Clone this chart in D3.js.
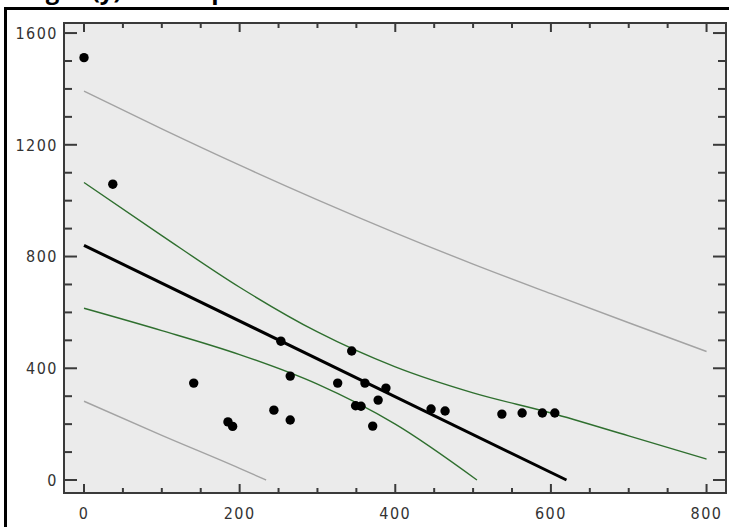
<!DOCTYPE html>
<meta charset="utf-8">
<style>
body { margin: 0; background: #fff; }
svg { display: block; }
.tick-label {
  font-family: "Liberation Sans Narrow", "DejaVu Sans Condensed", sans-serif;
  font-size: 16px;
  letter-spacing: 1.5px;
  fill: #333;
}
.title {
  font-family: "Open Sans", "DejaVu Sans", sans-serif;
  font-weight: bold;
  font-size: 24px;
}
</style>
<svg width="729" height="527"></svg>
<script src="https://d3js.org/d3.v7.min.js"></script>
<script>

// scatter points
var pointX = [0, 37, 141, 185, 191, 244, 265, 253, 265, 326, 344, 349, 356, 361, 371, 378, 388, 446, 464, 537, 563, 589, 605];
var pointY = [1512, 1059, 347, 208, 192, 250, 215, 497, 372, 347, 462, 266, 264, 347, 193, 286, 329, 254, 247, 236, 240, 240, 240];

// fitted line
var fitX = [0, 620];
var fitY = [840, 0];

// confidence band (green)
var confUpX = [0, 100, 200, 300, 400, 500, 600, 700, 800];
var confUpY = [1065, 875, 690, 530, 405, 312, 240, 158, 75];
var confLoX = [0, 100, 200, 300, 400, 505];
var confLoY = [615, 535, 449, 343, 200, 0];

// prediction band (grey)
var predUpX = [0, 100, 200, 300, 400, 500, 600, 700, 800];
var predUpY = [1392, 1257, 1127, 1003, 885, 773, 667, 563, 460];
var predLoX = [0, 100, 200, 234];
var predLoY = [282, 160, 42, 0];

var xTicks = [0, 200, 400, 600, 800];
var yTicks = [0, 400, 800, 1200, 1600];

var svg = d3.select("svg");

var pLeft = 64, pRight = 726, pTop = 23, pBottom = 493;

var x = d3.scaleLinear().domain([-25.7, 825]).range([pLeft, pRight]);
var y = d3.scaleLinear().domain([-46.5, 1636]).range([pBottom, pTop]);

// title, mostly cut off at the top
svg.append("text")
    .attr("class", "title")
    .attr("x", 1)
    .attr("y", -1)
    .text("Weight (y) vs Temp");

// frame
svg.append("line").attr("x1", 5.5).attr("x2", 5.5).attr("y1", 7).attr("y2", 527)
    .attr("stroke", "#000").attr("stroke-width", 3);
svg.append("line").attr("x1", 4).attr("x2", 729).attr("y1", 8.5).attr("y2", 8.5)
    .attr("stroke", "#000").attr("stroke-width", 3);

// plot background
svg.append("rect")
    .attr("x", pLeft).attr("y", pTop)
    .attr("width", pRight - pLeft).attr("height", pBottom - pTop)
    .attr("fill", "#ebebeb");

var plot = svg.append("g");

function zipped(xs, ys) {
  return xs.map(function(d, i) { return [d, ys[i]]; });
}

var line = d3.line()
    .x(function(d) { return x(d[0]); })
    .y(function(d) { return y(d[1]); })
    .curve(d3.curveMonotoneX);

plot.append("path").datum(zipped(predUpX, predUpY))
    .attr("d", line).attr("fill", "none").attr("stroke", "#a3a3a3").attr("stroke-width", 1.4);
plot.append("path").datum(zipped(predLoX, predLoY))
    .attr("d", line).attr("fill", "none").attr("stroke", "#a3a3a3").attr("stroke-width", 1.4);
plot.append("path").datum(zipped(confUpX, confUpY))
    .attr("d", line).attr("fill", "none").attr("stroke", "#2f6f2f").attr("stroke-width", 1.4);
plot.append("path").datum(zipped(confLoX, confLoY))
    .attr("d", line).attr("fill", "none").attr("stroke", "#2f6f2f").attr("stroke-width", 1.4);
plot.append("path").datum(zipped(fitX, fitY))
    .attr("d", line).attr("fill", "none").attr("stroke", "#000").attr("stroke-width", 3);

plot.selectAll("circle")
    .data(zipped(pointX, pointY))
    .enter().append("circle")
    .attr("cx", function(d) { return x(d[0]); })
    .attr("cy", function(d) { return y(d[1]); })
    .attr("r", 4.7)
    .attr("fill", "#000");

// axes: ticks point inward on all four sides
var axisColor = "#3a3a3a";
var minorX = d3.range(0, 801, 50);
var minorY = d3.range(0, 1601, 100);

function isMajorX(d) { return xTicks.indexOf(d) >= 0; }
function isMajorY(d) { return yTicks.indexOf(d) >= 0; }

var axes = svg.append("g").attr("stroke", axisColor).attr("stroke-width", 2);

axes.append("rect")
    .attr("x", pLeft).attr("y", pTop)
    .attr("width", pRight - pLeft).attr("height", pBottom - pTop)
    .attr("fill", "none");

axes.selectAll(".xb").data(minorX).enter().append("line")
    .attr("x1", function(d) { return x(d); }).attr("x2", function(d) { return x(d); })
    .attr("y1", pBottom).attr("y2", function(d) { return pBottom - (isMajorX(d) ? 9 : 5); });
axes.selectAll(".xt").data(minorX).enter().append("line")
    .attr("x1", function(d) { return x(d); }).attr("x2", function(d) { return x(d); })
    .attr("y1", pTop).attr("y2", function(d) { return pTop + (isMajorX(d) ? 9 : 5); });
axes.selectAll(".yl").data(minorY).enter().append("line")
    .attr("y1", function(d) { return y(d); }).attr("y2", function(d) { return y(d); })
    .attr("x1", pLeft).attr("x2", function(d) { return pLeft + (isMajorY(d) ? 13 : 8); });
axes.selectAll(".yr").data(minorY).enter().append("line")
    .attr("y1", function(d) { return y(d); }).attr("y2", function(d) { return y(d); })
    .attr("x1", pRight).attr("x2", function(d) { return pRight - (isMajorY(d) ? 13 : 8); });

svg.selectAll(".xl").data(xTicks).enter().append("text")
    .attr("class", "tick-label")
    .attr("x", function(d) { return x(d); })
    .attr("y", 519)
    .attr("text-anchor", "middle")
    .text(function(d) { return d; });

svg.selectAll(".ylab").data(yTicks).enter().append("text")
    .attr("class", "tick-label")
    .attr("x", 58)
    .attr("y", function(d) { return y(d); })
    .attr("dy", "0.36em")
    .attr("text-anchor", "end")
    .text(function(d) { return d; });

</script>
